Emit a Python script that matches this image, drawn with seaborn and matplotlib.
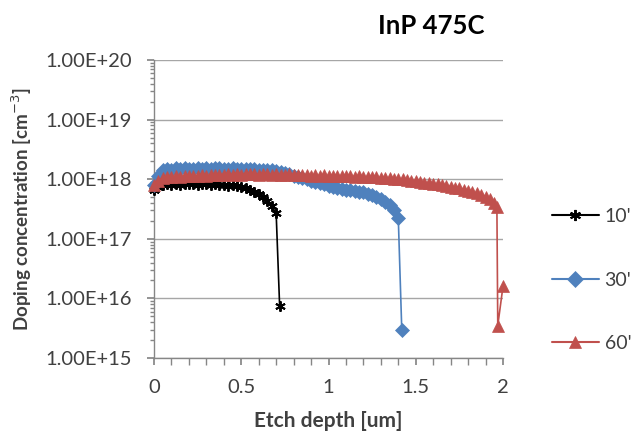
import numpy as np
import pandas as pd
import matplotlib
matplotlib.use("Agg")
import matplotlib.pyplot as plt
import matplotlib.ticker as mticker
from matplotlib.lines import Line2D
import seaborn as sns

# ---- data ----
depth_10 = [0, 0.025, 0.05, 0.075, 0.1, 0.125, 0.15, 0.175, 0.2, 0.225, 0.25, 0.275,
            0.3, 0.325, 0.35, 0.375, 0.4, 0.425, 0.45, 0.475, 0.5, 0.525, 0.55, 0.575,
            0.6, 0.625, 0.65, 0.675, 0.70, 0.72]
conc_10 = [6.5e17, 7.4e17, 7.9e17, 8.2e17, 8.0e17, 8.3e17, 8.1e17, 8.4e17, 8.2e17, 8.3e17,
           8.0e17, 8.4e17, 8.2e17, 8.1e17, 8.3e17, 8.0e17, 8.1e17, 7.8e17, 7.9e17, 7.6e17,
           7.4e17, 7.0e17, 6.6e17, 6.1e17, 5.6e17, 5.0e17, 4.3e17, 3.5e17, 2.7e17, 7.4e15]

depth_30 = [0, 0.025, 0.05, 0.075, 0.1, 0.125, 0.15, 0.175, 0.2, 0.225, 0.25, 0.275,
            0.3, 0.325, 0.35, 0.375, 0.4, 0.425, 0.45, 0.475, 0.5, 0.525, 0.55, 0.575,
            0.6, 0.625, 0.65, 0.675, 0.7, 0.725, 0.75, 0.775, 0.8, 0.825, 0.85, 0.875,
            0.9, 0.925, 0.95, 0.975, 1.0, 1.025, 1.05, 1.075, 1.1, 1.125, 1.15, 1.175,
            1.2, 1.225, 1.25, 1.275, 1.3, 1.325, 1.35, 1.375, 1.40, 1.42]
conc_30 = [8.0e17, 1.15e18, 1.40e18, 1.50e18, 1.45e18, 1.52e18, 1.48e18, 1.55e18, 1.50e18,
           1.47e18, 1.53e18, 1.50e18, 1.55e18, 1.49e18, 1.52e18, 1.55e18, 1.50e18, 1.48e18,
           1.53e18, 1.50e18, 1.47e18, 1.50e18, 1.46e18, 1.48e18, 1.44e18, 1.45e18, 1.41e18,
           1.40e18, 1.36e18, 1.33e18, 1.28e18, 1.22e18, 1.15e18, 1.10e18, 1.05e18, 1.00e18,
           9.5e17, 9.1e17, 8.7e17, 8.2e17, 7.8e17, 7.5e17, 7.2e17, 6.9e17, 6.7e17, 6.5e17,
           6.3e17, 6.1e17, 6.0e17, 5.7e17, 5.4e17, 5.0e17, 4.6e17, 4.2e17, 3.7e17, 3.0e17,
           2.2e17, 2.9e15]

depth_60 = [0, 0.025, 0.05, 0.075, 0.1, 0.125, 0.15, 0.175, 0.2, 0.225, 0.25, 0.275,
            0.3, 0.325, 0.35, 0.375, 0.4, 0.425, 0.45, 0.475, 0.5, 0.525, 0.55, 0.575,
            0.6, 0.625, 0.65, 0.675, 0.7, 0.725, 0.75, 0.775, 0.8, 0.825, 0.85, 0.875,
            0.9, 0.925, 0.95, 0.975, 1.0, 1.025, 1.05, 1.075, 1.1, 1.125, 1.15, 1.175,
            1.2, 1.225, 1.25, 1.275, 1.3, 1.325, 1.35, 1.375, 1.4, 1.425, 1.45, 1.475,
            1.5, 1.525, 1.55, 1.575, 1.6, 1.625, 1.65, 1.675, 1.7, 1.725, 1.75, 1.775,
            1.8, 1.825, 1.85, 1.875, 1.9, 1.925, 1.95, 1.965, 1.97, 2.0]
conc_60 = [8.0e17, 9.5e17, 1.05e18, 1.10e18, 1.08e18, 1.12e18, 1.10e18, 1.14e18, 1.12e18,
           1.15e18, 1.13e18, 1.17e18, 1.15e18, 1.18e18, 1.16e18, 1.19e18, 1.17e18, 1.20e18,
           1.18e18, 1.21e18, 1.19e18, 1.22e18, 1.20e18, 1.21e18, 1.19e18, 1.22e18, 1.20e18,
           1.18e18, 1.21e18, 1.19e18, 1.17e18, 1.20e18, 1.18e18, 1.16e18, 1.19e18, 1.17e18,
           1.15e18, 1.17e18, 1.14e18, 1.16e18, 1.13e18, 1.15e18, 1.12e18, 1.14e18, 1.11e18,
           1.13e18, 1.10e18, 1.12e18, 1.09e18, 1.10e18, 1.07e18, 1.08e18, 1.05e18, 1.06e18,
           1.03e18, 1.02e18, 1.00e18, 9.9e17, 9.6e17, 9.5e17, 9.2e17, 9.1e17, 8.8e17, 8.6e17,
           8.4e17, 8.2e17, 7.9e17, 7.7e17, 7.5e17, 7.2e17, 7.0e17, 6.7e17, 6.4e17, 6.1e17,
           5.8e17, 5.5e17, 5.1e17, 4.6e17, 4.0e17, 3.4e17, 3.5e15, 1.6e16]

series_labels = ["10'", "30'", "60'"]
x_ticks = [0, 0.5, 1, 1.5, 2]
x_tick_labels = ["0", "0.5", "1", "1.5", "2"]
y_ticks = [1e15, 1e16, 1e17, 1e18, 1e19, 1e20]

frames = []
for lab, d, c in zip(series_labels, [depth_10, depth_30, depth_60], [conc_10, conc_30, conc_60]):
    frames.append(pd.DataFrame({"depth": d, "conc": c, "time": lab}))
df = pd.concat(frames, ignore_index=True)

# ---- style ----
sns.set_theme(style="white")
plt.rcParams["font.family"] = ["Lato", "DejaVu Sans"]

colors = {"10'": "#000000", "30'": "#4F81BD", "60'": "#C0504D"}
markers = {"10'": (6, 2, 0), "30'": "D", "60'": "^"}
msize = {"10'": 7.5, "30'": 7.5, "60'": 8}
medge = {"10'": 1.4, "30'": 0.5, "60'": 0.5}

fig = plt.figure(figsize=(6.36, 4.34), dpi=100)
ax = fig.add_axes([154 / 636, 1 - 358 / 434, (503 - 154) / 636, (358 - 60) / 434])

for lab in series_labels:
    sub = df[df["time"] == lab]
    sns.lineplot(data=sub, x="depth", y="conc", ax=ax, color=colors[lab],
                 marker=markers[lab], markersize=msize[lab],
                 markeredgecolor=colors[lab], markeredgewidth=medge[lab],
                 linewidth=1.2, sort=False, estimator=None, label=lab, legend=False,
                 clip_on=False, zorder=3)

ax.set_yscale("log")
ax.set_ylim(1e15, 1e20)
ax.set_xlim(0, 2)
ax.set_yticks(y_ticks)
ax.yaxis.set_major_formatter(mticker.FuncFormatter(
    lambda v, p: "1.00E+%d" % int(round(np.log10(v)))))
ax.yaxis.set_minor_locator(mticker.LogLocator(base=10, subs=np.arange(2, 10) * 1.0, numticks=20))
ax.yaxis.set_minor_formatter(mticker.NullFormatter())
ax.set_xticks(x_ticks)
ax.set_xticklabels(x_tick_labels)
ax.xaxis.set_minor_locator(mticker.MultipleLocator(0.1))

ax.grid(axis="y", which="major", color="#A6A6A6", linewidth=1.0)
ax.set_axisbelow(True)
for s in ["top", "right"]:
    ax.spines[s].set_visible(False)
for s in ["left", "bottom"]:
    ax.spines[s].set_color("#868686")
    ax.spines[s].set_linewidth(1.0)

ax.tick_params(axis="y", which="major", direction="out", length=5, color="#868686",
               labelsize=14.5, labelcolor="#404040", pad=11, left=True)
ax.tick_params(axis="y", which="minor", direction="out", length=3, color="#868686", left=True)
ax.tick_params(axis="x", which="both", direction="out", length=5, color="#868686",
               labelsize=14.5, labelcolor="#404040", pad=10, bottom=True)

ax.set_xlabel("Etch depth [um]", fontsize=15, fontweight="bold", color="#404040")
ax.set_ylabel("Doping concentration [cm$^{-3}$]", fontsize=13.5, fontweight="bold", color="#404040")
ax.xaxis.set_label_coords(0.5, -(411 - 358) / 298)
ax.yaxis.set_label_coords(-(154 - 34) / 349, 0.5)

fig.text(431 / 636, 1 - 26 / 434, "InP 475C", fontsize=18.5, fontweight="bold",
         ha="center", va="center", color="#000000")

handles = [Line2D([], [], color=colors[l], marker=markers[l], markersize=8,
                  markeredgecolor=colors[l], markeredgewidth=medge[l],
                  linewidth=1.5) for l in series_labels]
fig.legend(handles, series_labels, loc="center left",
           bbox_to_anchor=(552 / 636, 1 - 280 / 434), frameon=False, fontsize=14,
           labelspacing=2.4, handlelength=2.4, handletextpad=0.3, borderpad=0,
           borderaxespad=0, labelcolor="#404040")

fig.savefig("out.png", dpi=100)
